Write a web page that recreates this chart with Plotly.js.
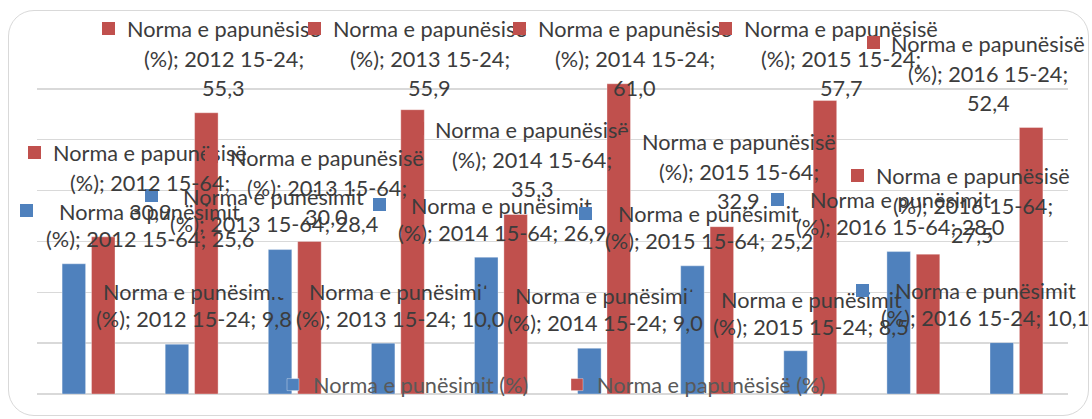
<!DOCTYPE html>
<html><head><meta charset="utf-8">
<script src="https://cdn.plot.ly/plotly-3.0.1.min.js"></script>
<style>
html,body{margin:0;padding:0;background:#fff;}
#wrap{position:relative;width:1092px;height:419px;overflow:hidden;}
#chart{position:absolute;left:0;top:0;width:1092px;height:419px;}
#frame{position:absolute;left:8px;top:10px;width:1081px;height:406px;box-sizing:border-box;border:1.5px solid #D9D9D9;border-radius:26px;pointer-events:none;}
#measure{position:absolute;left:0;top:0;width:10px;height:10px;visibility:hidden;}
</style></head><body>
<div id="wrap"><div id="chart"></div><div id="frame"></div></div>
<svg id="measure" xmlns="http://www.w3.org/2000/svg"><text id="mtext" x="0" y="50"></text></svg>
<script>
// ---- data ----
const categories = ['2012 15-64','2012 15-24','2013 15-64','2013 15-24','2014 15-64','2014 15-24','2015 15-64','2015 15-24','2016 15-64','2016 15-24'];
const seriesNames = ['Norma e punësimit (%)', 'Norma e papunësisë (%)'];
const punesimit  = [25.6, 9.8, 28.4, 10.0, 26.9, 9.0, 25.2, 8.5, 28.0, 10.1];
const papunesise = [30.9, 55.3, 30.0, 55.9, 35.3, 61.0, 32.9, 57.7, 27.5, 52.4];

// ---- style / label placement (px offsets of label text centre from category centre & bar top) ----
const colors = ['#4F81BD', '#C0504D'];
const blueLabelDX = [61, 2, -21, 2, 1, 1, 1.5, 1, -13, -31];
const blueLabelDY = [-52, -52.5, -53, -51.5, -51.5, -52, -51.5, -51, -51.5, -51.5];
const redLabelDX  = [61.5, 32, 32, 32, 31.5, 30.5, 31.5, 31, 59.5, -28];
const redLabelDY  = [-83.5, -83.5, -83.5, -80.5, -84.5, -54.5, -84.5, -71.5, -78, -84];
const blueLineOff = [0, 27];
const redLineOff  = [0, 30, 59];

const FONT = 'Lato';
const msvg = document.getElementById('measure');
const mt = document.getElementById('mtext');
function tw(s, size) {
  mt.setAttribute('style', 'font-family:' + FONT + ';font-size:' + size + 'px;white-space:pre;');
  mt.textContent = s;
  return mt.getComputedTextLength();
}
let FS = 100 * 194 / tw('Norma e papunësisë', 100);
if (!isFinite(FS) || FS < 12 || FS > 30) FS = 21.5;
FS = Math.round(FS * 10) / 10;

const fmt = v => v.toFixed(1).replace('.', ',');

const annotations = [];
function addLabel(i, v, lines, offs, dx, dy, color) {
  const maxW = Math.max(...lines.map(l => tw(l, FS)));
  // legend key square
  annotations.push({
    x: categories[i], y: v, xref: 'x', yref: 'y', text: ' ', showarrow: false,
    width: 13, height: 13, bgcolor: color, borderpad: 0, borderwidth: 0,
    xanchor: 'center', yanchor: 'middle',
    xshift: dx - maxW / 2 - 12 - 6.5, yshift: -dy + 1, font: { size: 6 }
  });
  lines.forEach((l, k) => {
    annotations.push({
      x: categories[i], y: v, xref: 'x', yref: 'y', text: l, showarrow: false,
      xanchor: 'center', yanchor: 'middle',
      xshift: dx, yshift: -(dy + offs[k]),
      font: { family: FONT, size: FS, color: '#3c3c3c' }
    });
  });
}
categories.forEach((c, i) => {
  addLabel(i, punesimit[i], ['Norma e punësimit', '(%); ' + c + '; ' + fmt(punesimit[i])],
           blueLineOff, blueLabelDX[i], blueLabelDY[i], colors[0]);
});
categories.forEach((c, i) => {
  addLabel(i, papunesise[i], ['Norma e papunësisë', '(%); ' + c + ';', fmt(papunesise[i])],
           redLineOff, redLabelDX[i], redLabelDY[i], colors[1]);
});
msvg.parentNode.removeChild(msvg);

const traces = [
  { type: 'bar', name: seriesNames[0], x: categories, y: punesimit,
    marker: { color: colors[0], line: { color: 'rgba(255,255,255,0.35)', width: 1 } }, hoverinfo: 'skip' },
  { type: 'bar', name: seriesNames[1], x: categories, y: papunesise,
    marker: { color: colors[1], line: { color: 'rgba(255,255,255,0.35)', width: 1 } }, hoverinfo: 'skip' }
];

const layout = {
  width: 1092, height: 419,
  margin: { l: 37, r: 24, t: 38, b: 25, pad: 0 },
  paper_bgcolor: '#ffffff', plot_bgcolor: '#ffffff',
  font: { family: FONT, size: FS, color: '#404040' },
  barmode: 'group', bargap: 0.43, bargroupgap: 0.2,
  xaxis: { type: 'category', categoryorder: 'array', categoryarray: categories,
           range: [-0.5, categories.length - 0.5], autorange: false, fixedrange: true,
           showticklabels: false, showgrid: false, ticks: '', showline: false, zeroline: false },
  yaxis: { range: [0, 70], autorange: false, dtick: 10, showticklabels: false, ticks: '',
           showgrid: true, gridcolor: '#D9D9D9', gridwidth: 1.3,
           zeroline: true, zerolinecolor: '#D9D9D9', zerolinewidth: 1.3, showline: false },
  showlegend: true,
  legend: { orientation: 'h', x: (273 - 37) / 1031, xanchor: 'left', y: (394 - 385) / 356, yanchor: 'middle',
            font: { family: FONT, size: FS, color: '#595959' }, bgcolor: 'rgba(0,0,0,0)',
            entrywidth: 239, entrywidthmode: 'pixels', traceorder: 'normal' },
  annotations: annotations
};

Plotly.newPlot('chart', traces, layout, { staticPlot: true, displayModeBar: false });
</script>
</body></html>
